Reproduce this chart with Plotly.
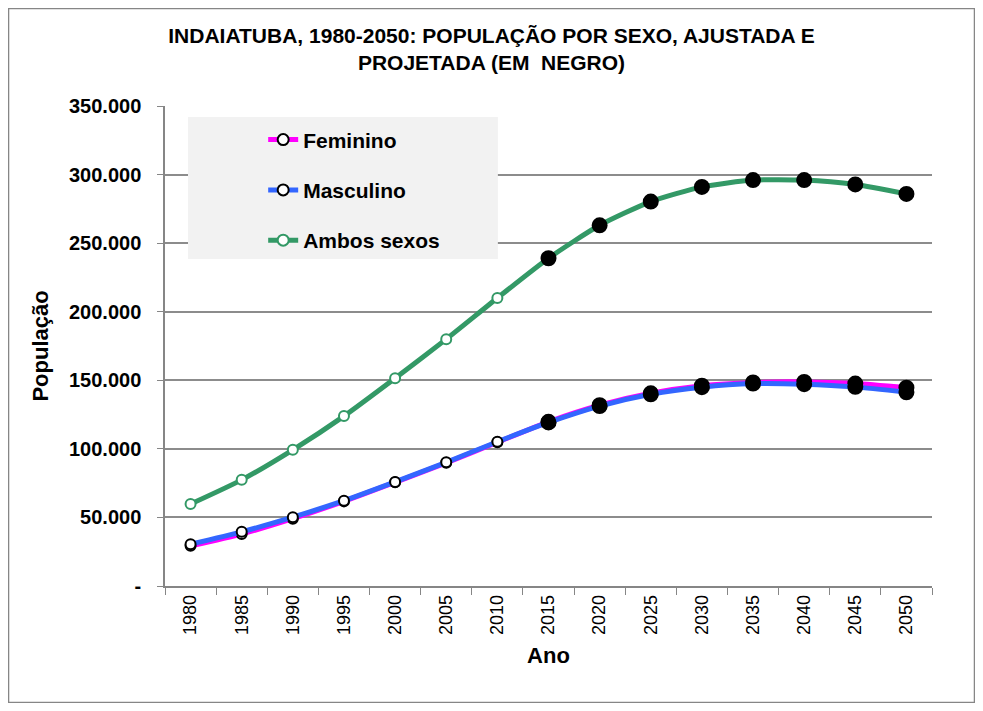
import plotly.graph_objects as go

# dados
anos = ["1980", "1985", "1990", "1995", "2000", "2005", "2010", "2015",
        "2020", "2025", "2030", "2035", "2040", "2045", "2050"]
feminino = [29300, 37900, 49100, 61700, 75600, 89800, 104800, 119700,
            131800, 140500, 146000, 148400, 148800, 147600, 144600]
masculino = [30500, 39500, 50200, 62200, 75900, 90200, 105200, 119300,
             131200, 139800, 145000, 147600, 147200, 145200, 141300]
ambos = [59800, 77400, 99300, 123900, 151500, 180000, 210000, 239000,
         263000, 280300, 291000, 296000, 296000, 292800, 285900]
n_ajustado = 7  # 1980-2010 ajustados, 2015+ projetados (em negro)

y_ticks = [0, 50000, 100000, 150000, 200000, 250000, 300000, 350000]
y_labels = ["-" if v == 0 else f"{v:,}".replace(",", ".") for v in y_ticks]

cores = {"Feminino": "#ff00ff", "Masculino": "#3366ff", "Ambos sexos": "#339966"}
series = [("Feminino", feminino), ("Masculino", masculino), ("Ambos sexos", ambos)]

fig = go.Figure()
for nome, vals in series:
    cor = cores[nome]
    borda = "black" if nome != "Ambos sexos" else cor
    n_proj = len(anos) - n_ajustado
    fig.add_trace(go.Scatter(
        x=anos, y=vals, name=nome, mode="lines+markers", showlegend=False,
        line=dict(color=cor, width=5, shape="spline", smoothing=0.6),
        marker=dict(size=[10] * n_ajustado + [14] * n_proj,
                    color=["white"] * n_ajustado + ["black"] * n_proj,
                    opacity=1,
                    line=dict(color=[borda] * n_ajustado + ["black"] * n_proj, width=2)),
    ))

# legenda com marcador branco
for nome, vals in series:
    cor = cores[nome]
    borda = "black" if nome != "Ambos sexos" else cor
    fig.add_trace(go.Scatter(
        x=[None], y=[None], name=nome, mode="lines+markers", legendgroup=nome,
        line=dict(color=cor, width=5),
        marker=dict(size=11, color="white", line=dict(color=borda, width=2)),
    ))

fig.update_layout(
    width=967, height=695,
    margin=dict(l=157, r=43, t=98, b=117),
    paper_bgcolor="white", plot_bgcolor="white",
    font=dict(family="Arial, Liberation Sans, sans-serif", color="black"),
    title=dict(
        text="INDAIATUBA, 1980-2050: POPULAÇÃO POR SEXO, AJUSTADA E<br>PROJETADA (EM  NEGRO)",
        font=dict(size=21, weight="bold"),
        x=0.5, xanchor="center", xref="container", y=0.95, yanchor="middle",
    ),
    legend=dict(
        x=0.128, y=0.972, xanchor="left", yanchor="top",
        bgcolor="rgba(0,0,0,0)", borderwidth=0,
        font=dict(size=21, weight="bold"),
        tracegroupgap=20,
    ),
    showlegend=True,
    shapes=[
        dict(type="rect", xref="paper", yref="paper",
             x0=-0.2040, x1=1.0554, y0=-0.2427, y1=1.2031,
             line=dict(color="#868686", width=1.5), layer="below"),
        dict(type="rect", xref="paper", yref="paper",
             x0=0.030, x1=0.434, y0=0.681, y1=0.977,
             fillcolor="#f2f2f2", line=dict(width=0), layer="above"),
    ],
)

fig.update_xaxes(
    type="category", tickson="boundaries", ticks="outside", ticklen=7,
    tickcolor="#868686", showline=True, linecolor="#868686", linewidth=1.5,
    showgrid=False, tickangle=-90, tickfont=dict(size=18),
    title=dict(text="Ano", font=dict(size=22, weight="bold"), standoff=14),
    range=[-0.5, len(anos) - 0.5],
)
fig.update_yaxes(
    range=[0, 350000], tickvals=y_ticks, ticktext=y_labels,
    ticks="outside", ticklen=6, tickcolor="#868686", ticklabelstandoff=12,
    showline=True, linecolor="#868686", linewidth=1.5,
    showgrid=True, gridcolor="#8c8c8c", gridwidth=1.5,
    tickfont=dict(size=20, weight="bold"),
    title=dict(text="População", font=dict(size=22, weight="bold"), standoff=14),
    zeroline=False,
)

fig.write_html("out.html")
